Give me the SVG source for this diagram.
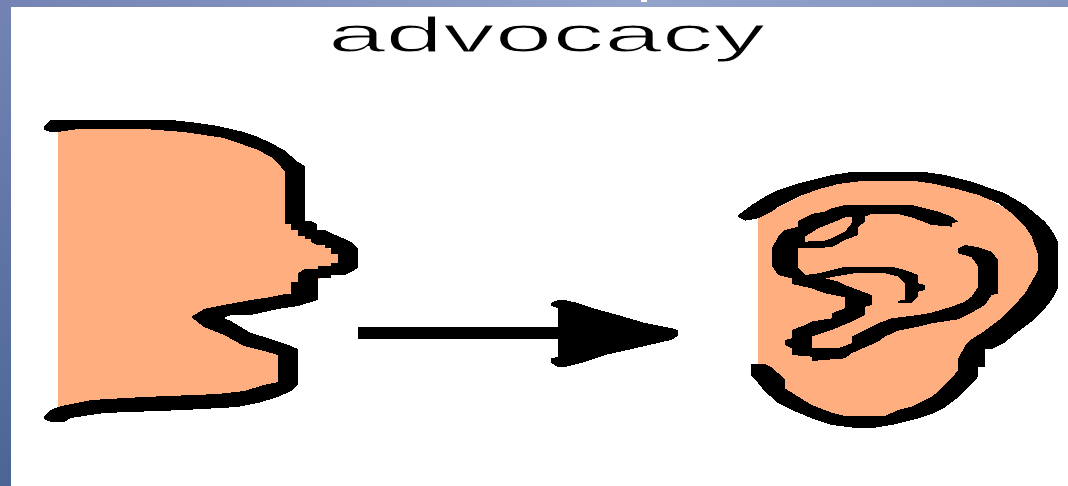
<svg xmlns="http://www.w3.org/2000/svg" width="1068" height="486" viewBox="0 0 1068 486">
<style>
.skin{fill:#ffaf7f;shape-rendering:crispEdges}
.ink{fill:#000;fill-rule:evenodd;shape-rendering:crispEdges}
.shaft{stroke:#000;stroke-width:12;fill:none;shape-rendering:crispEdges}
.label{font-family:"Liberation Sans",Arial,sans-serif;font-size:50px;fill:#000;stroke:#fff;stroke-width:1px;paint-order:fill}
</style>
<defs>
<linearGradient id="topbar" x1="0" y1="0" x2="1068" y2="0" gradientUnits="userSpaceOnUse">
<stop offset="0" stop-color="#7384b4"/><stop offset="0.6" stop-color="#93a3cc"/><stop offset="1" stop-color="#8393bf"/>
</linearGradient>
<linearGradient id="leftbar" x1="0" y1="0" x2="0" y2="486" gradientUnits="userSpaceOnUse">
<stop offset="0" stop-color="#7384b4"/><stop offset="1" stop-color="#4b6597"/>
</linearGradient>
<marker id="head" markerUnits="userSpaceOnUse" markerWidth="130" markerHeight="70" refX="9" refY="33" orient="auto" overflow="visible">
<polygon class="ink" points="0,3 7,0 14,0 27,3 41,8 67,15 94,23 120,28 127,30 127,36 120,40 107,43 81,49 54,55 34,62 14,67 7,67 0,63 0,58 7,57 7,8 0,6"/>
</marker>
</defs>
<rect width="1068" height="486" fill="#fff"/>
<rect x="0" y="0" width="1068" height="7" fill="url(#topbar)"/>
<rect x="0" y="0" width="11" height="486" fill="url(#leftbar)"/>
<rect x="641" y="0" width="6" height="2" fill="#fff"/>
<g id="label">
<text class="label" transform="translate(328,52) scale(2.07,1)">advocacy</text>
</g>
<g id="face">
<polygon class="skin" points="58,128 144,125 204,130 258,145 290,170 290,225 340,255 342,266 300,290 270,300 195,317 280,352 282,384 244,395 144,400 58,410"/>
<polygon class="ink" points="44,126 51,120 171,120 198,123 218,126 244,132 258,137 271,143 284,150 291,156 298,162 305,166 305,221 311,221 317,224 317,230 325,230 331,233 345,239 351,242 358,248 358,268 351,272 345,275 331,275 331,278 318,278 318,300 298,306 278,309 251,315 231,315 224,318 231,321 251,333 271,339 291,346 298,349 298,385 291,391 278,397 258,403 238,407 184,410 104,413 71,418 64,422 51,422 44,419 44,416 51,410 58,407 71,404 91,400 144,397 218,394 244,391 264,385 278,382 278,355 264,351 244,346 224,335 204,327 191,317 204,309 218,306 251,300 271,297 285,294 291,294 291,282 298,282 298,273 305,269 318,269 318,266 331,266 331,263 338,263 338,254 331,254 331,248 325,248 325,245 317,245 311,242 311,239 305,239 305,236 298,236 298,230 291,230 291,224 285,224 285,172 278,163 271,157 258,150 244,145 224,138 204,135 184,132 144,129 78,129 58,132 51,132 44,130"/>
</g>
<g id="ear">
<polygon class="skin" transform="translate(720,160) scale(0.3333)" points="114,175 160,150 300,80 435,55 575,55 775,100 900,170 975,260 975,350 900,470 780,570 760,620 650,730 495,780 375,780 275,745 195,690 114,610"/>
<polygon class="ink" transform="translate(720,160) scale(0.3333)" points="55,165 75,150 95,135 135,110 175,90 235,70 295,55 335,45 395,36 615,36 675,45 755,65 855,100 915,135 975,185 995,210 1014,245 1014,385 995,420 975,445 935,485 915,500 875,530 855,548 815,568 795,568 795,620 775,620 775,650 735,692 715,712 675,742 635,762 595,775 515,795 455,805 415,805 335,795 275,775 215,750 175,730 135,695 115,670 93,648 93,612 135,612 155,622 175,640 195,658 195,685 235,710 275,735 335,758 375,768 495,768 535,750 575,740 635,710 655,695 675,675 695,655 715,630 715,595 735,558 755,538 795,512 835,482 875,445 915,400 935,365 955,330 955,285 935,230 915,200 875,160 835,130 775,105 715,88 635,70 575,62 435,62 355,72 295,88 235,110 175,140 155,155 115,175 75,182 55,172"/>
<path class="ink" transform="translate(720,160) scale(0.3333)" d="M715,185 695,170 655,155 615,145 575,135 375,135 335,145 315,155 275,162 255,172 235,183 235,200 195,210 175,230 155,265 155,318 175,345 215,355 215,372 275,385 315,400 375,412 375,445 335,460 335,475 275,485 255,495 215,510 215,535 195,540 195,555 215,565 215,585 275,590 275,603 375,595 395,580 435,562 475,545 495,530 535,512 595,500 635,490 715,478 755,458 795,435 815,405 835,400 835,300 815,275 775,262 735,255 715,265 715,280 755,292 775,320 775,380 755,410 735,425 695,440 635,458 595,465 515,475 475,490 435,510 395,530 395,550 355,565 275,565 275,530 335,510 395,485 435,465 435,440 455,435 455,405 415,390 375,375 355,365 315,355 355,348 415,338 495,340 535,350 555,370 555,420 535,422 535,430 575,430 595,410 595,395 615,390 615,375 595,370 595,345 555,330 515,320 375,320 335,330 295,340 255,345 235,325 235,265 335,262 375,240 415,225 415,200 435,185 435,170 455,162 535,162 575,172 635,195 695,200 695,190Z M255,245 255,230 295,205 345,185 375,172 395,170 395,190 375,215 335,235 315,242Z"/>
</g>
<g id="connectors">
<line class="shaft" x1="358" y1="333" x2="560" y2="333" marker-end="url(#head)"/>
</g>
</svg>
